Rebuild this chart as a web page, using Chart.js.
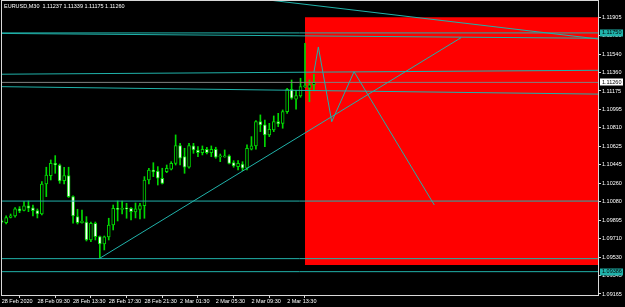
<!DOCTYPE html>
<html>
<head>
<meta charset="utf-8">
<script src="https://cdn.jsdelivr.net/npm/chart.js@4.4.0/dist/chart.umd.min.js"></script>
<style>
  html, body { margin: 0; padding: 0; background: #000; }
  #wrap { width: 625px; height: 307px; }
</style>
</head>
<body>
<div id="wrap"><canvas id="chart" width="625" height="307"></canvas></div>
<script>
// EURUSD M30 bars, index 0 = 28 Feb 05:30
const opens = [1.09888, 1.09871, 1.09923, 1.09938, 1.10007, 1.09992, 1.10037, 1.10017, 1.09992, 1.09957,
  1.10254, 1.10337, 1.10459, 1.10442, 1.10287, 1.10337, 1.10129, 1.09931, 1.09871, 1.09878,
  1.09700, 1.09865, 1.09733, 1.09660, 1.09730, 1.09848, 1.10014, 1.10002, 1.10012, 1.10014,
  1.09977, 1.10002, 1.10040, 1.10294, 1.10393, 1.10383, 1.10311, 1.10376, 1.10400, 1.10459,
  1.10634, 1.10525, 1.10420, 1.10631, 1.10591, 1.10564, 1.10598, 1.10564, 1.10598, 1.10522,
  1.10522, 1.10532, 1.10465, 1.10426, 1.10452, 1.10410, 1.10598, 1.10631, 1.10871, 1.10839,
  1.10740, 1.10789, 1.10871, 1.10855, 1.10970, 1.11192, 1.11093, 1.11126, 1.11218, 1.11202,
  1.11237];
const highs = [1.09898, 1.09938, 1.09957, 1.10020, 1.10030, 1.10079, 1.10086, 1.10046, 1.10007, 1.10277,
  1.10420, 1.10492, 1.10535, 1.10452, 1.10420, 1.10420, 1.10136, 1.10004, 1.09997, 1.09931,
  1.09878, 1.09878, 1.09739, 1.09739, 1.09915, 1.10046, 1.10086, 1.10086, 1.10063, 1.10020,
  1.10066, 1.10063, 1.10327, 1.10410, 1.10465, 1.10426, 1.10410, 1.10442, 1.10475, 1.10740,
  1.10657, 1.10608, 1.10657, 1.10657, 1.10624, 1.10631, 1.10618, 1.10631, 1.10618, 1.10551,
  1.10591, 1.10542, 1.10485, 1.10485, 1.10475, 1.10641, 1.10723, 1.10881, 1.10938, 1.10888,
  1.10855, 1.10928, 1.10954, 1.10987, 1.11202, 1.11284, 1.11178, 1.11301, 1.11648, 1.11284,
  1.11339];
const lows = [1.09868, 1.09858, 1.09918, 1.09925, 1.09970, 1.09987, 1.09980, 1.09938, 1.09918, 1.09947,
  1.10129, 1.10294, 1.10360, 1.10261, 1.10254, 1.10121, 1.09865, 1.09858, 1.09865, 1.09690,
  1.09683, 1.09700, 1.09519, 1.09601, 1.09700, 1.09799, 1.09888, 1.09957, 1.09915, 1.09898,
  1.09918, 1.09908, 1.09915, 1.10254, 1.10327, 1.10244, 1.10254, 1.10366, 1.10393, 1.10442,
  1.10442, 1.10360, 1.10410, 1.10558, 1.10525, 1.10542, 1.10551, 1.10525, 1.10509, 1.10475,
  1.10519, 1.10452, 1.10420, 1.10393, 1.10386, 1.10393, 1.10591, 1.10598, 1.10772, 1.10624,
  1.10723, 1.10772, 1.10822, 1.10806, 1.10954, 1.11093, 1.10994, 1.11113, 1.11210, 1.11069,
  1.11175];
const closes = [1.09878, 1.09921, 1.09938, 1.10007, 1.09987, 1.10037, 1.10014, 1.09990, 1.09957, 1.10254,
  1.10343, 1.10459, 1.10442, 1.10284, 1.10337, 1.10129, 1.09938, 1.09871, 1.09888, 1.09700,
  1.09865, 1.09733, 1.09660, 1.09730, 1.09848, 1.10014, 1.10002, 1.10012, 1.10007, 1.09980,
  1.10007, 1.10040, 1.10294, 1.10393, 1.10376, 1.10311, 1.10261, 1.10410, 1.10459, 1.10634,
  1.10509, 1.10420, 1.10634, 1.10591, 1.10564, 1.10598, 1.10564, 1.10598, 1.10519, 1.10527,
  1.10532, 1.10459, 1.10433, 1.10459, 1.10410, 1.10608, 1.10631, 1.10871, 1.10839, 1.10740,
  1.10796, 1.10871, 1.10849, 1.10970, 1.11192, 1.11103, 1.11129, 1.11218, 1.11223, 1.11235,
  1.11260];

const timeTickIdx = [0, 8, 16, 24, 32, 40, 48, 56, 64];
const timeTickLabels = ['28 Feb 2020', '28 Feb 09:30', '28 Feb 13:30', '28 Feb 17:30', '28 Feb 21:30',
  '2 Mar 01:30', '2 Mar 05:30', '2 Mar 09:30', '2 Mar 13:30'];
const priceTicks = [1.11905, 1.11720, 1.11540, 1.11360, 1.11175, 1.10995, 1.10810, 1.10625,
  1.10445, 1.10260, 1.10080, 1.09895, 1.09710, 1.09530, 1.09345, 1.09165];

// objects drawn on the chart (bar index, price)
const levelLines = [1.11750, 1.10085, 1.09515, 1.09386];
const bidPrice = 1.11260;
const slopedLines = [
  [-0.4, 1.11745, 133.7, 1.11697],
  [-0.4, 1.11341, 133.7, 1.11380],
  [-0.4, 1.11218, 133.7, 1.11144],
  [60, 1.12075, 133.7, 1.11690],
  [22, 1.09519, 103, 1.11703]
];
const zigzagIdx = [70, 71, 74, 79, 97];
const zigzagPrice = [1.11360, 1.11611, 1.10871, 1.11366, 1.10046];
const zoneRect = { from: 68, to: 140, top: 1.11905, bottom: 1.09452 };
const axisMarks = [
  { price: 1.11750, bg: '#20b2aa' },
  { price: 1.11260, bg: '#ffffff' },
  { price: 1.09386, bg: '#20b2aa' }
];

const TEAL = '#20b2aa';
const CANDLE = '#00d800';
const FONT = { family: 'Liberation Sans', size: 5.5 };
const title = 'EURUSD,M30  1.11237 1.11339 1.11175 1.11260';

const idx = opens.map((_, i) => i);

const lineDs = (pts, color, order) => ({
  type: 'line',
  data: pts,
  borderColor: color,
  borderWidth: 1,
  pointRadius: 0,
  fill: false,
  tension: 0,
  order: order
});

const datasets = [];
datasets.push({
  type: 'line',
  data: [{ x: zoneRect.from, y: zoneRect.top }, { x: zoneRect.to, y: zoneRect.top }],
  borderWidth: 0,
  borderColor: 'rgba(0,0,0,0)',
  pointRadius: 0,
  fill: { target: { value: zoneRect.bottom }, above: '#ff0000', below: '#ff0000' },
  order: 20
});
datasets.push({
  type: 'bar',
  data: idx.map(i => ({ x: i, y: [lows[i], highs[i]] })),
  backgroundColor: CANDLE,
  barThickness: 1,
  grouped: false,
  order: 6
});
datasets.push({
  type: 'bar',
  data: idx.map(i => ({ x: i, y: [opens[i], closes[i]] })),
  backgroundColor: idx.map(i => closes[i] >= opens[i] ? '#000000' : '#ffffff'),
  borderColor: CANDLE,
  borderWidth: 1,
  borderSkipped: false,
  barThickness: 3,
  minBarLength: 1,
  grouped: false,
  order: 5
});
levelLines.forEach(p => datasets.push(lineDs([{ x: -5, y: p }, { x: 140, y: p }], TEAL, 2)));
datasets.push(lineDs([{ x: -5, y: bidPrice }, { x: 140, y: bidPrice }], '#808080', 3));
slopedLines.forEach(s => datasets.push(lineDs([{ x: s[0], y: s[1] }, { x: s[2], y: s[3] }], TEAL, 1)));
datasets.push(lineDs(zigzagIdx.map((x, k) => ({ x: x, y: zigzagPrice[k] })), TEAL, 1));

const mtDecor = {
  id: 'mtDecor',
  afterDraw(chart) {
    const { ctx, chartArea: a, scales } = chart;
    ctx.save();
    ctx.strokeStyle = '#d8d8d8';
    ctx.lineWidth = 1;
    ctx.strokeRect(a.left + 0.5, a.top - 0.5, a.right - a.left, a.bottom - a.top + 1);
    ctx.font = FONT.size + 'px ' + FONT.family;
    ctx.textBaseline = 'middle';
    ctx.fillStyle = '#ffffff';
    ctx.textAlign = 'left';
    ctx.fillText(title, a.left + 3, a.top + 5);
    axisMarks.forEach(m => {
      const y = scales.y.getPixelForValue(m.price);
      ctx.fillStyle = m.bg;
      ctx.fillRect(a.right + 2, Math.round(y) - 3.5, 23, 7);
      ctx.fillStyle = '#000000';
      ctx.fillText(m.price.toFixed(5), a.right + 4, y);
    });
    ctx.restore();
  }
};

new Chart(document.getElementById('chart'), {
  type: 'bar',
  data: { datasets },
  options: {
    responsive: false,
    animation: false,
    layout: { padding: { left: 1, top: 1, right: 0, bottom: 0 } },
    plugins: { legend: { display: false }, tooltip: { enabled: false } },
    scales: {
      x: {
        type: 'linear',
        offset: false,
        min: -0.157,
        max: 133.7,
        afterBuildTicks: s => { s.ticks = timeTickIdx.map(v => ({ value: v })); },
        afterFit: s => { s.height = 12; s.paddingLeft = 0; s.paddingRight = 0; },
        grid: { drawOnChartArea: false, tickLength: 3, color: '#d8d8d8' },
        border: { display: false },
        ticks: {
          align: 'start', maxRotation: 0, autoSkip: false, padding: 0,
          color: '#ffffff', font: FONT,
          callback: (v, i) => timeTickLabels[i]
        }
      },
      y: {
        position: 'right',
        min: 1.09155,
        max: 1.12066,
        afterBuildTicks: s => { s.ticks = priceTicks.map(v => ({ value: v })); },
        afterFit: s => { s.width = 27; s.paddingTop = 0; s.paddingBottom = 0; },
        grid: { drawOnChartArea: false, tickLength: 3, color: '#d8d8d8' },
        border: { display: false },
        ticks: {
          autoSkip: false, padding: 1, color: '#ffffff', font: FONT,
          callback: v => v.toFixed(5)
        }
      }
    }
  },
  plugins: [mtDecor]
});
</script>
</body>
</html>
